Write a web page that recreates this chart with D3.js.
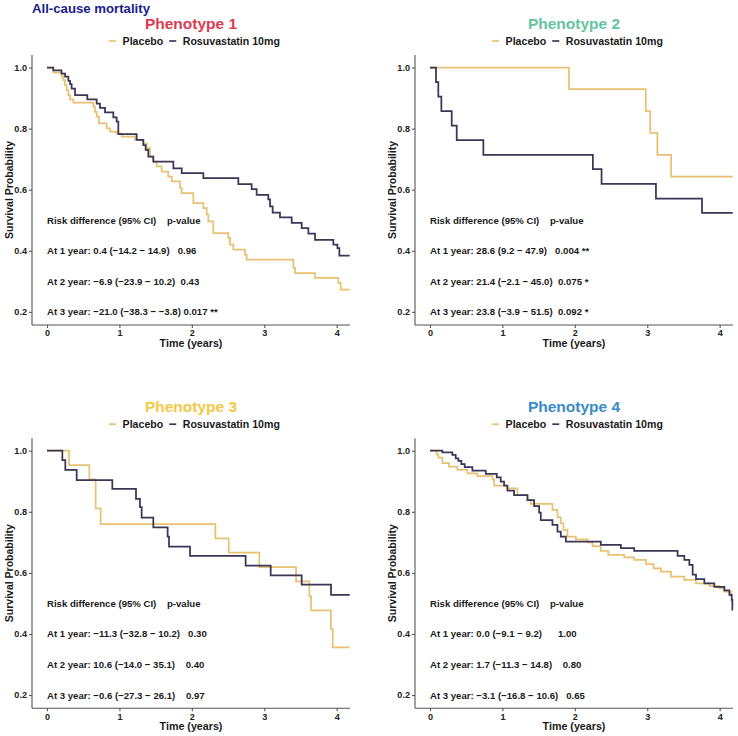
<!DOCTYPE html>
<html><head><meta charset="utf-8">
<script src="https://cdn.jsdelivr.net/npm/d3@7"></script>
<style>
body{margin:0;background:#fff}
text{font-family:"Liberation Sans",Arial,Helvetica,sans-serif;font-weight:bold}
</style>
</head><body>
<svg id="chart" width="738" height="736"></svg>
<script>
// ---------------- DATA ----------------
const mainTitle = "All-cause mortality";
const phenotypes = ["Phenotype 1", "Phenotype 2", "Phenotype 3", "Phenotype 4"];
const arms = ["Placebo", "Rosuvastatin 10mg"];
const xTicks = [0, 1, 2, 3, 4];
const yTicks = [0.2, 0.4, 0.6, 0.8, 1.0];
const annotationY = [0.5, 0.4, 0.3, 0.2];

// Phenotype 1
const p1PlaceboTime = [0,0.087,0.203,0.226,0.249,0.272,0.295,0.318,0.364,0.64,0.663,0.686,0.718,0.824,0.87,0.962,1.031,1.215,1.33,1.376,1.422,1.468,1.514,1.583,1.675,1.722,1.837,1.86,2.021,2.159,2.205,2.228,2.297,2.504,2.527,2.573,2.734,2.757,3.402,3.425,3.701,4.023,4.055,4.18];
const p1PlaceboSurv = [1,0.983,0.970,0.959,0.942,0.926,0.910,0.896,0.885,0.872,0.855,0.839,0.817,0.801,0.790,0.784,0.774,0.763,0.752,0.736,0.708,0.692,0.676,0.659,0.643,0.627,0.605,0.589,0.556,0.540,0.518,0.496,0.458,0.442,0.420,0.404,0.387,0.371,0.344,0.327,0.311,0.295,0.273,0.273];
const p1RosuTime = [0,0.087,0.20,0.25,0.295,0.318,0.34,0.387,0.557,0.686,0.732,0.801,0.916,0.962,0.985,1.238,1.33,1.362,1.399,1.468,1.745,1.86,2.159,2.642,2.826,2.895,3.056,3.08,3.116,3.217,3.379,3.517,3.609,3.701,3.954,4.01,4.037,4.18];
const p1RosuSurv = [1,0.991,0.980,0.970,0.956,0.946,0.931,0.910,0.896,0.882,0.868,0.853,0.837,0.823,0.782,0.763,0.746,0.730,0.708,0.692,0.670,0.654,0.638,0.618,0.602,0.583,0.568,0.545,0.525,0.509,0.491,0.474,0.456,0.436,0.420,0.409,0.384,0.384];
const p1Labels = ["Risk difference (95% CI)    p-value",
  "At 1 year: 0.4 (\u221214.2 \u2212 14.9)   0.96",
  "At 2 year: \u22126.9 (\u221223.9 \u2212 10.2)  0.43",
  "At 3 year: \u221221.0 (\u221238.3 \u2212 \u22123.8) 0.017 **"];

// Phenotype 2
const p2PlaceboTime = [0,1.92,2.98,3.04,3.14,3.33,4.18];
const p2PlaceboSurv = [1,0.929,0.857,0.786,0.714,0.643,0.643];
const p2RosuTime = [0,0.083,0.115,0.157,0.30,0.369,0.737,2.249,2.369,3.12,3.756,4.18];
const p2RosuSurv = [1,0.952,0.905,0.857,0.810,0.762,0.714,0.667,0.619,0.571,0.524,0.524];
const p2Labels = ["Risk difference (95% CI)    p-value",
  "At 1 year: 28.6 (9.2 \u2212 47.9)   0.004 **",
  "At 2 year: 21.4 (\u22122.1 \u2212 45.0)  0.075 *",
  "At 3 year: 23.8 (\u22123.9 \u2212 51.5)  0.092 *"];

// Phenotype 3
const p3PlaceboTime = [0,0.304,0.585,0.672,0.741,2.325,2.509,2.932,3.439,3.623,3.646,3.92,3.945,4.18];
const p3PlaceboSurv = [1,0.953,0.906,0.811,0.760,0.713,0.666,0.619,0.572,0.523,0.477,0.416,0.356,0.356];
const p3RosuTime = [0,0.212,0.253,0.41,0.902,1.229,1.284,1.307,1.468,1.666,1.685,1.975,2.743,3.089,3.517,3.922,4.18];
const p3RosuSurv = [1,0.969,0.937,0.904,0.875,0.842,0.815,0.781,0.749,0.719,0.686,0.656,0.624,0.592,0.562,0.528,0.528];
const p3Labels = ["Risk difference (95% CI)    p-value",
  "At 1 year: \u221211.3 (\u221232.8 \u2212 10.2)   0.30",
  "At 2 year: 10.6 (\u221214.0 \u2212 35.1)    0.40",
  "At 3 year: \u22120.6 (\u221227.3 \u2212 26.1)    0.97"];

// Phenotype 4
const p4PlaceboTime = [0,0.092,0.115,0.17,0.263,0.378,0.516,0.654,0.862,0.885,1.069,1.207,1.346,1.392,1.691,1.76,1.806,1.843,1.899,2.014,2.175,2.244,2.359,2.461,2.682,2.82,2.982,3.088,3.189,3.327,3.512,3.673,3.857,3.995,4.065,4.157,4.18];
const p4PlaceboSurv = [1,0.988,0.977,0.959,0.948,0.937,0.926,0.917,0.906,0.886,0.877,0.855,0.838,0.826,0.806,0.782,0.762,0.741,0.719,0.710,0.700,0.688,0.672,0.659,0.651,0.643,0.629,0.615,0.604,0.588,0.577,0.566,0.557,0.550,0.539,0.528,0.528];
const p4RosuTime = [0,0.17,0.309,0.355,0.392,0.433,0.479,0.585,0.77,0.922,0.977,1.023,1.069,1.161,1.346,1.438,1.507,1.53,1.691,1.76,1.806,1.876,2.359,2.636,2.82,3.419,3.512,3.581,3.627,3.673,3.788,3.926,4.065,4.134,4.166,4.175,4.18];
const p4RosuSurv = [1,0.995,0.986,0.975,0.967,0.956,0.946,0.935,0.924,0.913,0.899,0.886,0.869,0.855,0.838,0.819,0.797,0.773,0.757,0.735,0.719,0.702,0.692,0.681,0.672,0.656,0.643,0.626,0.594,0.580,0.566,0.554,0.543,0.528,0.512,0.479,0.479];
const p4Labels = ["Risk difference (95% CI)    p-value",
  "At 1 year: 0.0 (\u22129.1 \u2212 9.2)      1.00",
  "At 2 year: 1.7 (\u221211.3 \u2212 14.8)    0.80",
  "At 3 year: \u22123.1 (\u221216.8 \u2212 10.6)   0.65"];

// ---------------- STYLE ----------------
const titleColors = ["#DB3B52", "#66C3A0", "#F5C843", "#3A8BC7"];
const armColors = ["#E8C272", "#3B3556"];

const panels = [
  {title: phenotypes[0], color: titleColors[0], series: [[p1PlaceboTime,p1PlaceboSurv],[p1RosuTime,p1RosuSurv]], labels: p1Labels},
  {title: phenotypes[1], color: titleColors[1], series: [[p2PlaceboTime,p2PlaceboSurv],[p2RosuTime,p2RosuSurv]], labels: p2Labels},
  {title: phenotypes[2], color: titleColors[2], series: [[p3PlaceboTime,p3PlaceboSurv],[p3RosuTime,p3RosuSurv]], labels: p3Labels},
  {title: phenotypes[3], color: titleColors[3], series: [[p4PlaceboTime,p4PlaceboSurv],[p4RosuTime,p4RosuSurv]], labels: p4Labels}
];

const svg = d3.select("#chart");

svg.append("text").attr("x", 32).attr("y", 12.5)
  .attr("font-size", 13.2).attr("fill", "#1C1C8A").text(mainTitle);

const plotL = 32, plotR = 350, plotT = 55, plotB = 325;
const x = d3.scaleLinear().domain([-0.207, 4.184]).range([plotL, plotR]);
const y = d3.scaleLinear().domain([0.157, 1.041]).range([plotB, plotT]);

panels.forEach((p, i) => {
  const dx = (i % 2) * 383, dy = Math.floor(i / 2) * 383.2;
  const g = svg.append("g").attr("transform", `translate(${dx},${dy})`);
  const cx = (plotL + plotR) / 2;

  g.append("text").attr("x", cx).attr("y", 28.5).attr("text-anchor", "middle")
    .attr("font-size", 15.5).attr("fill", p.color).text(p.title);

  // legend
  const lg = g.append("g");
  const tmp = lg.append("text").attr("font-size", 10.6).attr("visibility", "hidden");
  const widths = arms.map(a => { tmp.text(a); return tmp.node().getComputedTextLength(); });
  tmp.remove();
  const keyW = 7, gapKT = 6.5, gapItems = 6;
  const total = arms.reduce((s, a, k) => s + keyW + gapKT + widths[k] + (k < arms.length - 1 ? gapItems : 0), 0);
  let lx = cx + 3.5 - total / 2;
  arms.forEach((a, k) => {
    lg.append("line").attr("x1", lx).attr("x2", lx + keyW).attr("y1", 41).attr("y2", 41)
      .attr("stroke", armColors[k]).attr("stroke-width", 1.7);
    lg.append("text").attr("x", lx + keyW + gapKT).attr("y", 44.8).attr("font-size", 10.6)
      .attr("fill", "#1a1a1a").text(a);
    lx += keyW + gapKT + widths[k] + gapItems;
  });

  // axes
  const yAxis = d3.axisLeft(y).tickValues(yTicks).tickFormat(d3.format(".1f")).tickSize(3).tickPadding(2);
  const xAxis = d3.axisBottom(x).tickValues(xTicks).tickFormat(d3.format("d")).tickSize(3).tickPadding(2);
  const ya = g.append("g").attr("transform", `translate(${plotL},0)`).call(yAxis);
  const xa = g.append("g").attr("transform", `translate(0,${plotB})`).call(xAxis);
  [ya, xa].forEach(a => {
    a.select(".domain").attr("stroke", "#555").attr("stroke-width", 1.1);
    a.selectAll(".tick line").attr("stroke", "#555").attr("stroke-width", 1.1);
    a.selectAll(".tick text").attr("font-size", 9.1).attr("fill", "#222")
      .style("font-family", '"Liberation Sans",Arial,sans-serif').style("font-weight", "bold");
  });
  ya.select(".domain").attr("d", `M0,${plotT}V${plotB}`);
  xa.select(".domain").attr("d", `M${plotL},0H${plotR}`);

  g.append("text").attr("transform", `translate(${10.5},${(plotT + plotB) / 2}) rotate(-90)`)
    .attr("text-anchor", "middle").attr("dominant-baseline", "middle")
    .attr("font-size", 10.5).attr("fill", "#1a1a1a").text("Survival Probability");
  g.append("text").attr("x", (plotL + plotR) / 2).attr("y", 347)
    .attr("text-anchor", "middle").attr("font-size", 10.7).attr("fill", "#1a1a1a").text("Time (years)");

  // curves
  const line = d3.line().x(d => x(d[0])).y(d => y(d[1])).curve(d3.curveStepAfter);
  p.series.forEach((s, k) => {
    const pts = s[0].map((t, j) => [t, s[1][j]]);
    g.append("path").datum(pts).attr("d", line).attr("fill", "none")
      .attr("stroke", armColors[k]).attr("stroke-width", 1.75);
  });

  // annotations
  p.labels.forEach((lab, j) => {
    g.append("text").attr("x", x(0)).attr("y", y(annotationY[j]))
      .attr("dominant-baseline", "central").attr("font-size", 9.6).attr("fill", "#1a1a1a")
      .style("white-space", "pre").text(lab);
  });
});
</script>
</body></html>
